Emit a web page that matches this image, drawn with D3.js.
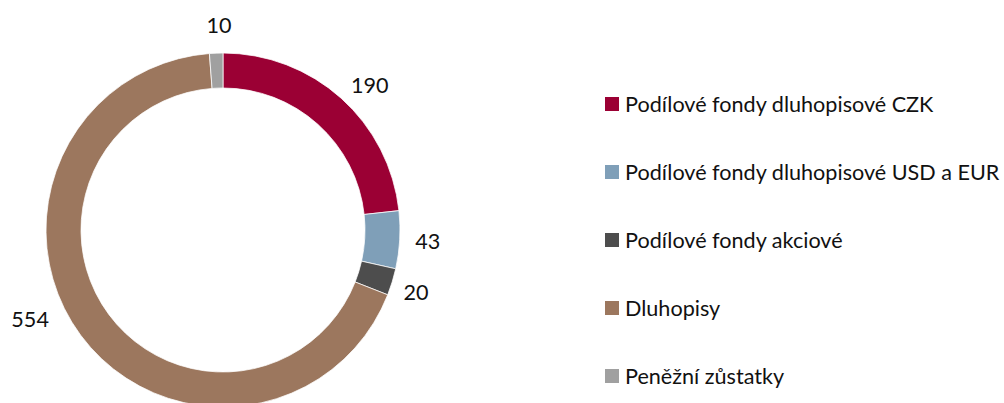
<!DOCTYPE html>
<head>
  <meta charset="utf-8">
  <title>Struktura portfolia</title>
  <style>
    body {
      margin: 0;
      padding: 0;
      background-color: #fff;
      font-family: 'Lato', sans-serif;
    }
    .label, .legend text {
      font-size: 21.6px;
      fill: #111;
    }
  </style>
</head>
<body>
  <div id='vis'></div>

  <script src="https://cdn.jsdelivr.net/npm/d3@7"></script>
  <script>
    var categories = ['Podílové fondy dluhopisové CZK', 'Podílové fondy dluhopisové USD a EUR',
                      'Podílové fondy akciové', 'Dluhopisy', 'Peněžní zůstatky'],
        values = [190, 43, 20, 554, 10],
        colors = ['#9b0034', '#7f9fb8', '#4d4d4d', '#9c775e', '#a0a0a0'];

    var width = 1004,
        height = 403,
        cx = 223,
        cy = 230,
        outerR = 177,
        innerR = 142,
        labelR = 205;

    // excel moves some labels round the ring a bit
    var labelNudge = {
      'Dluhopisy': [-28, -32],
      'Podílové fondy dluhopisové CZK': [10, 8],
      'Podílové fondy akciové': [-3, 2],
      'Peněžní zůstatky': [4, 0]
    };

    var svg = d3.select("#vis").append("svg")
      .attr("width", width)
      .attr("height", height);

    var color = d3.scaleOrdinal().domain(categories).range(colors);

    var data = categories.map(function(c, i) { return { name: c, value: values[i] }; });

    var pie = d3.pie().sort(null).value(function(d) { return d.value; });
    var arcs = pie(data);

    var arc = d3.arc().innerRadius(innerR).outerRadius(outerR);
    var labelArc = d3.arc().innerRadius(labelR).outerRadius(labelR);

    var g = svg.append("g").attr("transform", "translate(" + cx + "," + cy + ")");

    g.selectAll("path")
      .data(arcs)
      .enter().append("path")
        .attr("d", arc)
        .attr("fill", function(d) { return color(d.data.name); })
        .attr("stroke", "#fff")
        .attr("stroke-width", 0.75);

    g.selectAll("text")
      .data(arcs)
      .enter().append("text")
        .attr("class", "label")
        .attr("text-anchor", "middle")
        .attr("dy", "0.35em")
        .attr("transform", function(d) {
          var p = labelArc.centroid(d),
              n = labelNudge[d.data.name] || [0, 0];
          return "translate(" + [p[0] + n[0], p[1] + n[1]] + ")";
        })
        .text(function(d) { return d.data.value; });

    var legend = svg.append("g")
        .attr("class", "legend")
        .attr("transform", "translate(605,97)");

    var row = legend.selectAll("g")
      .data(categories)
      .enter().append("g")
        .attr("transform", function(d, i) { return "translate(0," + (i * 68) + ")"; });

    row.append("rect")
      .attr("width", 14)
      .attr("height", 14)
      .attr("fill", function(d) { return color(d); });

    row.append("text")
      .attr("x", 20)
      .attr("y", 7)
      .attr("dy", "0.35em")
      .text(function(d) { return d; });
  </script>
</body>
